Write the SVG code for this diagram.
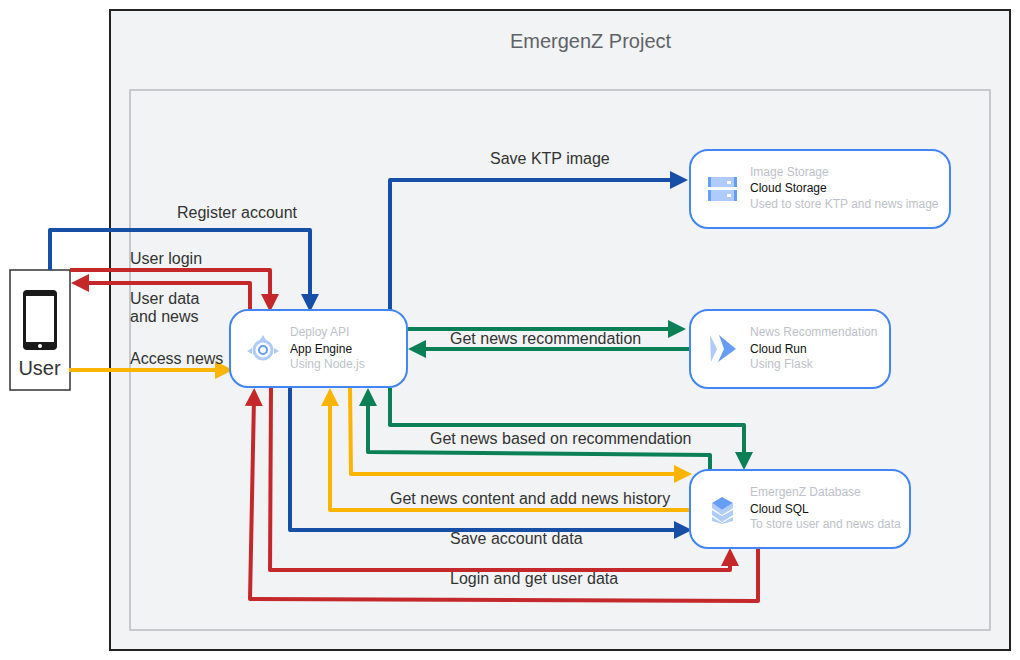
<svg xmlns="http://www.w3.org/2000/svg" width="1020" height="660" viewBox="0 0 1020 660">
<style>
text{font-family:"Liberation Sans",Arial,sans-serif}
.lb{font-size:16px;fill:#333}
.t{font-size:12px;fill:#bdc1c9}
.s{font-size:12px;fill:#111}
.n{fill:#fff;stroke:#4285f4;stroke-width:2}
.c{fill:none;stroke-width:4;stroke-linejoin:round}
.blue{stroke:#174ea6}.red{stroke:#c5282b}.green{stroke:#0b8057}.yel{stroke:#fbb400}
</style>
<defs>
<marker id="ab" markerUnits="userSpaceOnUse" markerWidth="20" markerHeight="20" refX="8" refY="9" orient="auto"><path d="M0 0L18 9L0 18Z" fill="#174ea6"/></marker>
<marker id="ar" markerUnits="userSpaceOnUse" markerWidth="20" markerHeight="20" refX="8" refY="9" orient="auto"><path d="M0 0L18 9L0 18Z" fill="#c5282b"/></marker>
<marker id="ag" markerUnits="userSpaceOnUse" markerWidth="20" markerHeight="20" refX="8" refY="9" orient="auto"><path d="M0 0L18 9L0 18Z" fill="#0b8057"/></marker>
<marker id="ay" markerUnits="userSpaceOnUse" markerWidth="20" markerHeight="20" refX="8" refY="9" orient="auto"><path d="M0 0L18 9L0 18Z" fill="#fbb400"/></marker>
</defs>
<rect width="1020" height="660" fill="#fff"/>
<g id="project"><rect x="110" y="10" width="900" height="640" fill="#f1f3f5" stroke="#222" stroke-width="2"/>
<text x="590.500" y="48" text-anchor="middle" font-size="20" fill="#5f6368">EmergenZ Project</text>
<rect x="130" y="90" width="860" height="540" fill="none" stroke="#c6c8cc" stroke-width="2"/></g>
<g id="user"><rect x="10" y="270" width="60" height="120" fill="#fff" stroke="#333" stroke-width="1.500"/>
<rect x="23" y="290" width="34" height="60" rx="4" fill="#1a1a1a"/><rect x="26" y="296" width="28" height="46" fill="#fff"/><circle cx="40" cy="346" r="2" fill="#fff"/>
<text x="39.500" y="375" text-anchor="middle" font-size="20" fill="#333">User</text></g>
<g id="connectors">
<path class="c blue" marker-end="url(#ab)" d="M50 270V230H310V302"/>
<path class="c red" marker-end="url(#ar)" d="M70 270H270V302"/>
<path class="c red" marker-end="url(#ar)" d="M250 310V283H81"/>
<path class="c yel" marker-end="url(#ay)" d="M69 370H223"/>
<path class="c blue" marker-end="url(#ab)" d="M390 310V180H678"/>
<path class="c green" marker-end="url(#ag)" d="M408 329H676"/>
<path class="c green" marker-end="url(#ag)" d="M692 349H418"/>
<path class="c green" marker-end="url(#ag)" d="M390 388V425H744V460"/>
<path class="c green" marker-end="url(#ag)" d="M710 470V455L368 452V398"/>
<path class="c yel" marker-end="url(#ay)" d="M350 388L351 474H682"/>
<path class="c yel" marker-end="url(#ay)" d="M692 510H330V398"/>
<path class="c blue" marker-end="url(#ab)" d="M290 388V530H682"/>
<path class="c red" marker-end="url(#ar)" d="M271 388L270 570H730V558"/>
<path class="c red" marker-end="url(#ar)" d="M758 542V601L250 599L254 398"/>
</g>
<g id="labels">
<text class="lb" x="177" y="218">Register account</text>
<text class="lb" x="130" y="264">User login</text>
<text class="lb" x="130" y="304">User data</text><text class="lb" x="130" y="322">and news</text>
<text class="lb" x="130" y="364">Access news</text>
<text class="lb" x="490" y="164">Save KTP image</text>
<text class="lb" x="450" y="344">Get news recommendation</text>
<text class="lb" x="430" y="444">Get news based on recommendation</text>
<text class="lb" x="390" y="504">Get news content and add news history</text>
<text class="lb" x="450" y="544">Save account data</text>
<text class="lb" x="450" y="584">Login and get user data</text>
</g>
<g id="deploy-api"><rect class="n" x="230" y="310" width="177" height="77" rx="18"/>
<circle cx="263" cy="350" r="9" fill="none" stroke="#aecbfa" stroke-width="3"/><circle cx="263" cy="350" r="4" fill="none" stroke="#669df6" stroke-width="2"/>
<path d="M263 335l-3 5h6zM247 351l5-3v6zM279 351l-5-3v6z" fill="#aecbfa"/>
<text class="t" x="290" y="336">Deploy API</text><text class="s" x="290" y="353">App Engine</text><text class="t" x="290" y="368">Using Node.js</text></g>
<g id="image-storage"><rect class="n" x="690" y="150" width="260" height="78" rx="18"/>
<rect x="708" y="177" width="29" height="10" fill="#aecbfa"/><rect x="708" y="190" width="29" height="11" fill="#aecbfa"/>
<rect x="708" y="177" width="3" height="10" fill="#669df6"/><rect x="734" y="177" width="3" height="10" fill="#669df6"/><rect x="708" y="190" width="3" height="11" fill="#669df6"/><rect x="734" y="190" width="3" height="11" fill="#669df6"/>
<rect x="727" y="181" width="4" height="3" fill="#fff"/><rect x="727" y="194" width="4" height="3" fill="#fff"/>
<text class="t" x="750" y="176">Image Storage</text><text class="s" x="750" y="192">Cloud Storage</text><text class="t" x="750" y="208">Used to store KTP and news image</text></g>
<g id="news-recommendation"><rect class="n" x="690" y="310" width="200" height="78" rx="18"/>
<path d="M710 335L717 349L711 362Z" fill="#aecbfa"/><path d="M719 335L736 349L718 362L724 349Z" fill="#669df6"/>
<text class="t" x="750" y="336">News Recommendation</text><text class="s" x="750" y="353">Cloud Run</text><text class="t" x="750" y="368">Using Flask</text></g>
<g id="emergenz-database"><rect class="n" x="690" y="470" width="220" height="78" rx="18"/>
<path d="M712 503L722 497L733 503L722 510Z" fill="#669df6"/><path d="M712 503L722 510L733 503V508L722 515L712 508Z" fill="#aecbfa"/>
<path d="M712 510L722 516L733 510V515L722 522L712 515Z" fill="#aecbfa"/><path d="M712 517L722 523L733 517V521L722 524L712 521Z" fill="#aecbfa"/>
<text class="t" x="750" y="496">EmergenZ Database</text><text class="s" x="750" y="513">Cloud SQL</text><text class="t" x="750" y="528">To store user and news data</text></g>
</svg>
